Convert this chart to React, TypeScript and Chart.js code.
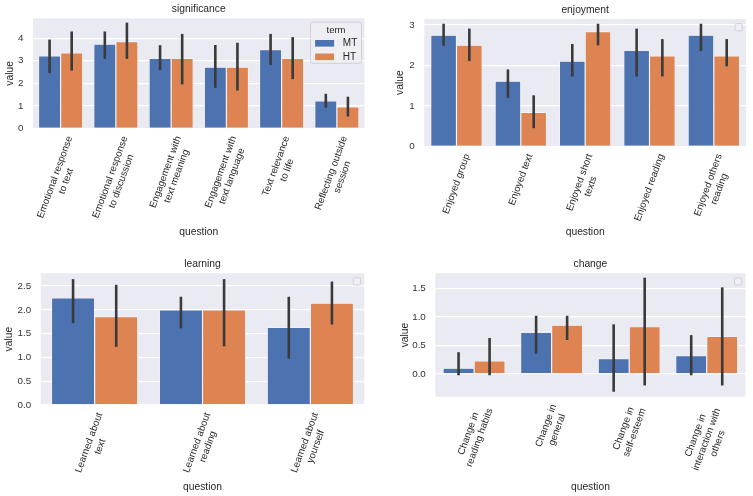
import React, { useEffect, useRef } from "react";
import { Chart, registerables } from "chart.js";
Chart.register(...registerables);

// ---------- data ----------
const seriesNames = ["MT", "HT"];

const sigCategories = [
  "Emotional response\nto text",
  "Emotional response\nto discussion",
  "Engagement with\ntext meaning",
  "Engagement with\ntext language",
  "Text relevance\nto life",
  "Reflecting outside\nsession",
];
const sigMT = [3.22, 3.74, 3.1, 2.72, 3.49, 1.22];
const sigHT = [3.35, 3.85, 3.1, 2.72, 3.1, 0.96];
const sigMTLow = [2.51, 3.14, 2.64, 1.86, 2.87, 0.98];
const sigMTHigh = [3.88, 4.24, 3.63, 3.64, 4.13, 1.48];
const sigHTLow = [2.62, 3.14, 2.01, 1.74, 2.24, 0.59];
const sigHTHigh = [4.24, 4.63, 4.13, 3.74, 3.99, 1.35];

const enjCategories = [
  "Enjoyed group",
  "Enjoyed text",
  "Enjoyed short\ntexts",
  "Enjoyed reading",
  "Enjoyed others\nreading",
];
const enjMT = [2.75, 1.61, 2.11, 2.37, 2.75];
const enjHT = [2.5, 0.84, 2.84, 2.24, 2.24];
const enjMTLow = [2.52, 1.23, 1.76, 1.76, 2.39];
const enjMTHigh = [3.0, 1.87, 2.5, 2.88, 3.0];
const enjHTLow = [2.14, 0.48, 2.53, 1.76, 2.01];
const enjHTHigh = [2.88, 1.23, 3.0, 2.62, 2.62];

const learnCategories = [
  "Learned about\ntext",
  "Learned about\nreading",
  "Learned about\nyourself",
];
const learnMT = [2.25, 2.0, 1.63];
const learnHT = [1.86, 2.0, 2.14];
const learnMTLow = [1.75, 1.64, 1.0];
const learnMTHigh = [2.62, 2.25, 2.25];
const learnHTLow = [1.25, 1.26, 1.72];
const learnHTHigh = [2.5, 2.62, 2.57];

const changeCategories = [
  "Change in\nreading habits",
  "Change in\ngeneral",
  "Change in\nself-esteem",
  "Change in\ninteraction with\nothers",
];
const changeMT = [0.1, 0.73, 0.27, 0.32];
const changeHT = [0.23, 0.86, 0.83, 0.66];
const changeMTLow = [0.0, 0.38, -0.29, 0.0];
const changeMTHigh = [0.36, 1.0, 0.85, 0.66];
const changeHTLow = [0.0, 0.62, -0.18, -0.18];
const changeHTHigh = [0.61, 1.0, 1.67, 1.5];

// ---------- styles ----------
const FONT = '"Liberation Sans", Arial, sans-serif';
const TEXT = "#262626";
const BLUE = "#4C72B0";
const ORANGE = "#DD8452";
const BG = "#EAEAF2";
const ERR = "#3a3a3a";

type PanelProps = {
  left: number;
  top: number;
  W: number;
  H: number;
  pl: number;
  pr: number;
  pt: number;
  pb: number;
  title: string;
  categories: string[];
  mt: number[];
  ht: number[];
  mtLow: number[];
  mtHigh: number[];
  htLow: number[];
  htHigh: number[];
  yMin: number;
  yMax: number;
  step: number;
  decimals: number;
  yTitlePad: number;
  xTitlePad: number;
  fullLegend: boolean;
};

function Panel(p: PanelProps) {
  const ref = useRef<HTMLCanvasElement | null>(null);
  useEffect(() => {
    if (!ref.current) return;
    const deco = {
      id: "deco",
      beforeDraw(chart: any) {
        const { ctx, chartArea: a } = chart;
        ctx.save();
        ctx.fillStyle = BG;
        ctx.fillRect(a.left, a.top, a.right - a.left, a.bottom - a.top);
        ctx.restore();
      },
      afterDatasetsDraw(chart: any) {
        const { ctx } = chart;
        const y = chart.scales.y;
        const m0 = chart.getDatasetMeta(0);
        const m1 = chart.getDatasetMeta(1);
        ctx.save();
        ctx.strokeStyle = ERR;
        ctx.lineWidth = 2.6;
        ctx.lineCap = "square";
        const draw = (meta: any, lo: number[], hi: number[]) => {
          meta.data.forEach((bar: any, i: number) => {
            ctx.beginPath();
            ctx.moveTo(bar.x, y.getPixelForValue(lo[i]));
            ctx.lineTo(bar.x, y.getPixelForValue(hi[i]));
            ctx.stroke();
          });
        };
        draw(m0, p.mtLow, p.mtHigh);
        draw(m1, p.htLow, p.htHigh);
        ctx.restore();
      },
      afterDraw(chart: any) {
        const { ctx, chartArea: a } = chart;
        const xs = chart.scales.x;
        ctx.save();
        // title
        ctx.fillStyle = TEXT;
        ctx.font = `10.3px ${FONT}`;
        ctx.textAlign = "center";
        ctx.textBaseline = "middle";
        ctx.fillText(p.title, (a.left + a.right) / 2, a.top - 9);
        // x tick labels, rotated 70 degrees, centred like matplotlib
        const fs = 9.8;
        const lh = fs * 1.2;
        const th = (70 * Math.PI) / 180;
        ctx.font = `${fs}px ${FONT}`;
        p.categories.forEach((lab, i) => {
          const lines = lab.split("\n");
          const w = Math.max(...lines.map((l) => ctx.measureText(l).width));
          const h = lines.length * lh;
          const bh = w * Math.sin(th) + h * Math.cos(th);
          const cx = xs.getPixelForTick(i);
          const cy = a.bottom + 6 + bh / 2;
          ctx.save();
          ctx.translate(cx, cy);
          ctx.rotate(-th);
          ctx.textAlign = "center";
          ctx.textBaseline = "middle";
          lines.forEach((l, j) => {
            ctx.fillText(l, 0, (j - (lines.length - 1) / 2) * lh);
          });
          ctx.restore();
        });
        // legend
        const rr = (x: number, y: number, w: number, h: number, r: number) => {
          ctx.beginPath();
          ctx.moveTo(x + r, y);
          ctx.lineTo(x + w - r, y);
          ctx.quadraticCurveTo(x + w, y, x + w, y + r);
          ctx.lineTo(x + w, y + h - r);
          ctx.quadraticCurveTo(x + w, y + h, x + w - r, y + h);
          ctx.lineTo(x + r, y + h);
          ctx.quadraticCurveTo(x, y + h, x, y + h - r);
          ctx.lineTo(x, y + r);
          ctx.quadraticCurveTo(x, y, x + r, y);
          ctx.closePath();
        };
        ctx.lineWidth = 0.8;
        ctx.strokeStyle = "#CCCCCC";
        ctx.fillStyle = "#EEEEF4";
        if (p.fullLegend) {
          const bx = a.right - 54;
          const by = a.top + 4;
          rr(bx, by, 51, 41, 2);
          ctx.fill();
          ctx.stroke();
          ctx.fillStyle = TEXT;
          ctx.font = `9.5px ${FONT}`;
          ctx.textAlign = "center";
          ctx.textBaseline = "middle";
          ctx.fillText("term", bx + 25.5, by + 8.5);
          const cols = [BLUE, ORANGE];
          const ys = [by + 21, by + 34.5];
          seriesNames.forEach((n, k) => {
            ctx.fillStyle = cols[k];
            ctx.fillRect(bx + 4.6, ys[k] - 3.3, 19, 6.6);
            ctx.fillStyle = TEXT;
            ctx.font = `10px ${FONT}`;
            ctx.textAlign = "left";
            ctx.fillText(n, bx + 32.3, ys[k]);
          });
        } else {
          rr(a.right - 11, a.top + 4.5, 7.3, 7.3, 1.5);
          ctx.fill();
          ctx.stroke();
        }
        ctx.restore();
      },
    };
    const chart = new Chart(ref.current, {
      type: "bar",
      data: {
        labels: p.categories,
        datasets: [
          {
            label: seriesNames[0],
            data: p.mt,
            backgroundColor: BLUE,
            borderColor: "#FFFFFF",
            borderWidth: { left: 0.6, right: 0.6, top: 0.6, bottom: 0 },
            borderSkipped: false,
            categoryPercentage: 0.8,
            barPercentage: 1,
          },
          {
            label: seriesNames[1],
            data: p.ht,
            backgroundColor: ORANGE,
            borderColor: "#FFFFFF",
            borderWidth: { left: 0.6, right: 0.6, top: 0.6, bottom: 0 },
            borderSkipped: false,
            categoryPercentage: 0.8,
            barPercentage: 1,
          },
        ],
      },
      options: {
        responsive: false,
        animation: false,
        devicePixelRatio: 1,
        layout: {
          padding: { left: 0, right: p.W - p.pr, top: p.pt, bottom: 0 },
        },
        plugins: {
          legend: { display: false },
          tooltip: { enabled: false },
          title: { display: false },
        },
        scales: {
          x: {
            grid: { display: false },
            border: { display: false },
            ticks: { display: false },
            title: {
              display: true,
              text: "question",
              color: TEXT,
              font: { family: FONT, size: 10.3 },
              padding: { top: 0, bottom: p.xTitlePad },
            },
            afterFit: (s: any) => {
              s.height = p.H - p.pb;
            },
          },
          y: {
            min: p.yMin,
            max: p.yMax,
            grid: { color: "#FFFFFF", lineWidth: 1.3, drawTicks: false },
            border: { display: false },
            ticks: {
              stepSize: p.step,
              includeBounds: false,
              padding: 9.5,
              color: "#333333",
              font: { family: FONT, size: 9.8 },
              callback: (v: any) => Number(v).toFixed(p.decimals),
            },
            title: {
              display: true,
              text: "value",
              color: TEXT,
              font: { family: FONT, size: 10.3 },
              padding: { top: p.yTitlePad, bottom: 0 },
            },
            afterFit: (s: any) => {
              s.width = p.pl;
            },
          },
        },
      },
      plugins: [deco],
    } as any);
    return () => chart.destroy();
  }, []);
  return (
    <canvas
      ref={ref}
      width={p.W}
      height={p.H}
      style={{ position: "absolute", left: p.left, top: p.top, width: p.W, height: p.H }}
    />
  );
}

export default function App() {
  return (
    <div
      style={{
        position: "fixed",
        left: 0,
        top: 0,
        width: 753,
        height: 496,
        background: "#FFFFFF",
        overflow: "hidden",
      }}
    >
      <Panel
        left={0} top={0} W={376} H={248}
        pl={33} pr={364.5} pt={18.3} pb={128.5}
        title="significance" categories={sigCategories}
        mt={sigMT} ht={sigHT} mtLow={sigMTLow} mtHigh={sigMTHigh} htLow={sigHTLow} htHigh={sigHTHigh}
        yMin={0} yMax={4.88} step={1} decimals={0}
        yTitlePad={3.5} xTitlePad={10} fullLegend={true}
      />
      <Panel
        left={376} top={0} W={377} H={248}
        pl={48.3} pr={370} pt={19} pb={146.3}
        title="enjoyment" categories={enjCategories}
        mt={enjMT} ht={enjHT} mtLow={enjMTLow} mtHigh={enjMTHigh} htLow={enjHTLow} htHigh={enjHTHigh}
        yMin={0} yMax={3.15} step={1} decimals={0}
        yTitlePad={18.3} xTitlePad={10} fullLegend={false}
      />
      <Panel
        left={0} top={248} W={376} H={248}
        pl={40.7} pr={364.3} pt={25.3} pb={157}
        title="learning" categories={learnCategories}
        mt={learnMT} ht={learnHT} mtLow={learnMTLow} mtHigh={learnMTHigh} htLow={learnHTLow} htHigh={learnHTHigh}
        yMin={0} yMax={2.77} step={0.5} decimals={1}
        yTitlePad={3.3} xTitlePad={2.5} fullLegend={false}
      />
      <Panel
        left={376} top={248} W={377} H={248}
        pl={59.3} pr={369.5} pt={25.3} pb={148.7}
        title="change" categories={changeCategories}
        mt={changeMT} ht={changeHT} mtLow={changeMTLow} mtHigh={changeMTHigh} htLow={changeHTLow} htHigh={changeHTHigh}
        yMin={-0.4} yMax={1.77} step={0.5} decimals={1}
        yTitlePad={23} xTitlePad={2.5} fullLegend={false}
      />
    </div>
  );
}
